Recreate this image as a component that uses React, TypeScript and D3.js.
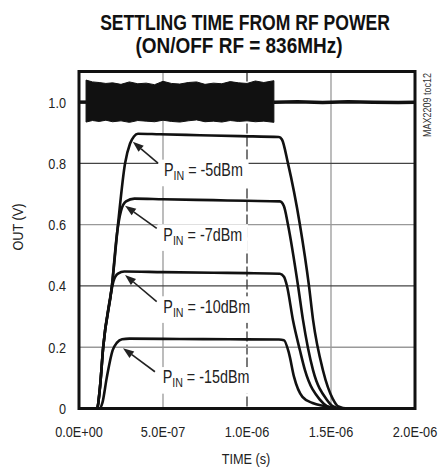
import { useRef, useEffect } from 'react';
import * as d3 from 'd3';

const W = 445;
const H = 467;

// time in microseconds, OUT in volts
const xTickValues = [0, 0.5, 1.0, 1.5, 2.0];
const xTickLabels = ['0.0E+00', '5.0E-07', '1.0E-06', '1.5E-06', '2.0E-06'];
const yTickValues = [0, 0.2, 0.4, 0.6, 0.8, 1.0];
const yTickLabels = ['0', '0.2', '0.4', '0.6', '0.8', '1.0'];

const pin5: [number, number][] = [
  [0, 0], [0.107, 0], [0.125, 0.07], [0.144, 0.2], [0.196, 0.4], [0.232, 0.6], [0.274, 0.8],
  [0.304, 0.865], [0.327, 0.888], [0.351, 0.897], [0.48, 0.895], [0.72, 0.892], [0.96, 0.889],
  [1.19, 0.886], [1.208, 0.878], [1.244, 0.8], [1.315, 0.6], [1.369, 0.4], [1.393, 0.29],
  [1.452, 0.125], [1.512, 0.03], [1.54, 0.008], [1.6, 0], [2.0, 0],
];
const pin7: [number, number][] = [
  [0, 0], [0.107, 0], [0.125, 0.07], [0.144, 0.2], [0.196, 0.4], [0.226, 0.57], [0.25, 0.645],
  [0.28, 0.676], [0.33, 0.685], [0.5, 0.683], [0.8, 0.68], [1.0, 0.678], [1.196, 0.676],
  [1.22, 0.66], [1.244, 0.6], [1.304, 0.4], [1.333, 0.29], [1.393, 0.125], [1.476, 0.028],
  [1.51, 0.008], [1.56, 0], [2.0, 0],
];
const pin10: [number, number][] = [
  [0, 0], [0.107, 0], [0.125, 0.07], [0.144, 0.2], [0.185, 0.36], [0.205, 0.415], [0.232, 0.44],
  [0.27, 0.447], [0.5, 0.445], [0.8, 0.443], [1.0, 0.442], [1.196, 0.44], [1.22, 0.43],
  [1.238, 0.4], [1.274, 0.287], [1.315, 0.19], [1.345, 0.125], [1.435, 0.028], [1.476, 0.008],
  [1.53, 0], [2.0, 0],
];
const pin15: [number, number][] = [
  [0, 0], [0.12, 0], [0.14, 0.02], [0.165, 0.1], [0.2, 0.19], [0.226, 0.215], [0.256, 0.226],
  [0.3, 0.228], [0.6, 0.227], [0.9, 0.226], [1.19, 0.225], [1.22, 0.223], [1.25, 0.18],
  [1.28, 0.103], [1.33, 0.038], [1.39, 0.018], [1.46, 0.008], [1.55, 0], [2.0, 0],
];

// RF on/off control trace
const rfLead: [number, number][] = [[0, 1.0], [0.042, 1.0]];
const rfBurstTimes = [0.042, 0.08, 0.12, 0.16, 0.2, 0.25, 0.3, 0.35, 0.4, 0.45, 0.5, 0.55, 0.6, 0.65, 0.7, 0.75, 0.8, 0.85, 0.9, 0.95, 1.0, 1.05, 1.1, 1.16];
const rfBurstUpper = [1.072, 1.066, 1.064, 1.061, 1.063, 1.058, 1.066, 1.06, 1.062, 1.057, 1.068, 1.061, 1.059, 1.064, 1.066, 1.058, 1.062, 1.06, 1.067, 1.063, 1.061, 1.069, 1.064, 1.07];
const rfBurstLower = [0.935, 0.94, 0.937, 0.941, 0.936, 0.939, 0.934, 0.94, 0.938, 0.936, 0.941, 0.937, 0.935, 0.939, 0.942, 0.936, 0.938, 0.935, 0.94, 0.937, 0.939, 0.936, 0.938, 0.934];
const rfOff: [number, number][] = [
  [1.16, 1.0], [1.3, 1.001], [1.45, 0.999], [1.6, 1.001], [1.75, 1.0], [1.9, 0.999], [2.0, 1.0],
];

const traces = [pin5, pin7, pin10, pin15];
const labelValues = ['-5dBm', '-7dBm', '-10dBm', '-15dBm'];
const arrowTips: [number, number][] = [[0.32, 0.871], [0.274, 0.662], [0.274, 0.436], [0.262, 0.197]];
const arrowTails: [number, number][] = [[0.47, 0.801], [0.4625, 0.588], [0.4625, 0.349], [0.452, 0.12]];
const labelAnchors: [number, number][] = [[0.506, 0.759], [0.502, 0.548], [0.502, 0.313], [0.498, 0.082]];

const FONT = "'Liberation Sans', Arial, sans-serif";
const NARROW = 0.82;

export default function App() {
  const svgRef = useRef<SVGSVGElement>(null);

  useEffect(() => {
    if (!svgRef.current) return;
    document.body.style.margin = '0';
    const svg = d3.select(svgRef.current);
    svg.selectAll('*').remove();

    const x = d3.scaleLinear().domain([0, 2.0]).range([79, 415]);
    const y = d3.scaleLinear().domain([0, 1.1]).range([408.5, 71.5]);

    svg.append('rect').attr('width', W).attr('height', H).attr('fill', '#fff');

    // narrow text via horizontal scaling
    const ntext = (g: d3.Selection<SVGGElement, unknown, null, undefined>, px: number, py: number, str: string, anchor: string, rot = 0) =>
      g.append('text')
        .attr('transform', `translate(${px},${py}) rotate(${rot}) scale(${NARROW},1)`)
        .attr('text-anchor', anchor)
        .text(str);

    // title, fitted to width
    const title = svg.append('g').attr('font-family', FONT).attr('font-weight', 'bold').attr('font-size', 22.5).attr('fill', '#111');
    [['SETTLING TIME FROM RF POWER', 245, 30, 290], ['(ON/OFF RF = 836MHz)', 239, 53, 207]].forEach(([s, cx, cy, w]) => {
      const t = title.append('text').attr('text-anchor', 'middle').text(s as string);
      const len = (t.node() as SVGTextElement).getComputedTextLength();
      t.attr('transform', `translate(${cx},${cy}) scale(${(w as number) / len},1)`);
    });

    const gridG = svg.append('g');
    const boxG = svg.append('g');
    const traceG = svg.append('g');
    const annoG = svg.append('g').attr('font-family', FONT).attr('fill', '#222');

    // gridlines
    [0.5, 1.0, 1.5].forEach((t, i) => {
      gridG.append('line')
        .attr('x1', x(t)).attr('x2', x(t)).attr('y1', y(1.1)).attr('y2', y(0))
        .attr('stroke', i === 1 ? '#333' : '#999').attr('stroke-width', 1.3)
        .attr('stroke-dasharray', i === 1 ? '10,3' : null);
    });
    [0.2, 0.4, 0.6, 0.8].forEach((v, i) => {
      gridG.append('line')
        .attr('x1', x(0)).attr('x2', x(2.0)).attr('y1', y(v)).attr('y2', y(v))
        .attr('stroke', i % 2 === 1 ? '#444' : '#999').attr('stroke-width', 1.3);
    });

    // RF burst trace
    const area = d3.area<number>()
      .x((_, i) => x(rfBurstTimes[i]))
      .y0((_, i) => y(rfBurstLower[i]))
      .y1((d) => y(d));
    traceG.append('path').attr('d', area(rfBurstUpper)).attr('fill', '#111').attr('stroke', '#111').attr('stroke-width', 1);
    const line = d3.line<[number, number]>().x((d) => x(d[0])).y((d) => y(d[1]));
    [rfLead, rfOff].forEach((d) => {
      traceG.append('path').attr('d', line(d)).attr('fill', 'none').attr('stroke', '#111').attr('stroke-width', 3.5);
    });

    // output traces
    const curve = d3.line<[number, number]>().x((d) => x(d[0])).y((d) => y(d[1])).curve(d3.curveMonotoneX);
    traces.forEach((d) => {
      traceG.append('path').attr('d', curve(d)).attr('fill', 'none').attr('stroke', '#111')
        .attr('stroke-width', 2.6).attr('stroke-linejoin', 'round');
    });

    // annotations
    labelValues.forEach((lbl, i) => {
      const [tx, ty] = [x(arrowTips[i][0]), y(arrowTips[i][1])];
      const [sx, sy] = [x(arrowTails[i][0]), y(arrowTails[i][1])];
      const ang = Math.atan2(ty - sy, tx - sx);
      const len = 11;
      const hw = 4;
      const bx = tx - len * Math.cos(ang);
      const by = ty - len * Math.sin(ang);
      annoG.append('line').attr('x1', sx).attr('y1', sy).attr('x2', bx).attr('y2', by)
        .attr('stroke', '#222').attr('stroke-width', 1.6);
      annoG.append('path')
        .attr('d', `M${tx},${ty}L${bx - hw * Math.sin(ang)},${by + hw * Math.cos(ang)}L${bx + hw * Math.sin(ang)},${by - hw * Math.cos(ang)}Z`)
        .attr('fill', '#222');

      const tf = `translate(${x(labelAnchors[i][0])},${y(labelAnchors[i][1])}) scale(${NARROW},1)`;
      const text = annoG.append('text').attr('transform', tf).attr('font-size', 17.5);
      text.append('tspan').text('P');
      text.append('tspan').attr('font-size', 13).attr('dy', 4).text('IN');
      text.append('tspan').attr('dy', -4).text(` = ${lbl}`);
      const bb = (text.node() as SVGTextElement).getBBox();
      boxG.append('rect').attr('transform', tf)
        .attr('x', bb.x - 7).attr('y', bb.y - 1).attr('width', bb.width + 14).attr('height', bb.height + 4).attr('fill', '#fff');
    });

    // frame
    svg.append('rect').attr('x', x(0)).attr('y', y(1.1)).attr('width', x(2.0) - x(0)).attr('height', y(0) - y(1.1))
      .attr('fill', 'none').attr('stroke', '#111').attr('stroke-width', 3);

    // tick labels
    const axG = svg.append('g').attr('font-family', FONT).attr('font-size', 15.5).attr('fill', '#222');
    yTickValues.forEach((v, i) => {
      ntext(axG, 66, y(v) + 5.5, yTickLabels[i], 'end');
    });
    xTickValues.forEach((t, i) => {
      ntext(axG, x(t), 437, xTickLabels[i], 'middle');
    });
    ntext(axG, 246, 464, 'TIME (s)', 'middle');
    ntext(axG, 23, 227, 'OUT (V)', 'middle', -90);

    const wm = svg.append('g').attr('font-family', FONT).attr('font-size', 11).attr('fill', '#333');
    ntext(wm, 431, 105, 'MAX2209 toc12', 'middle', -90);
  }, []);

  return <svg ref={svgRef} width={W} height={H} style={{ position: 'absolute', left: 0, top: 0, display: 'block' }} />;
}
